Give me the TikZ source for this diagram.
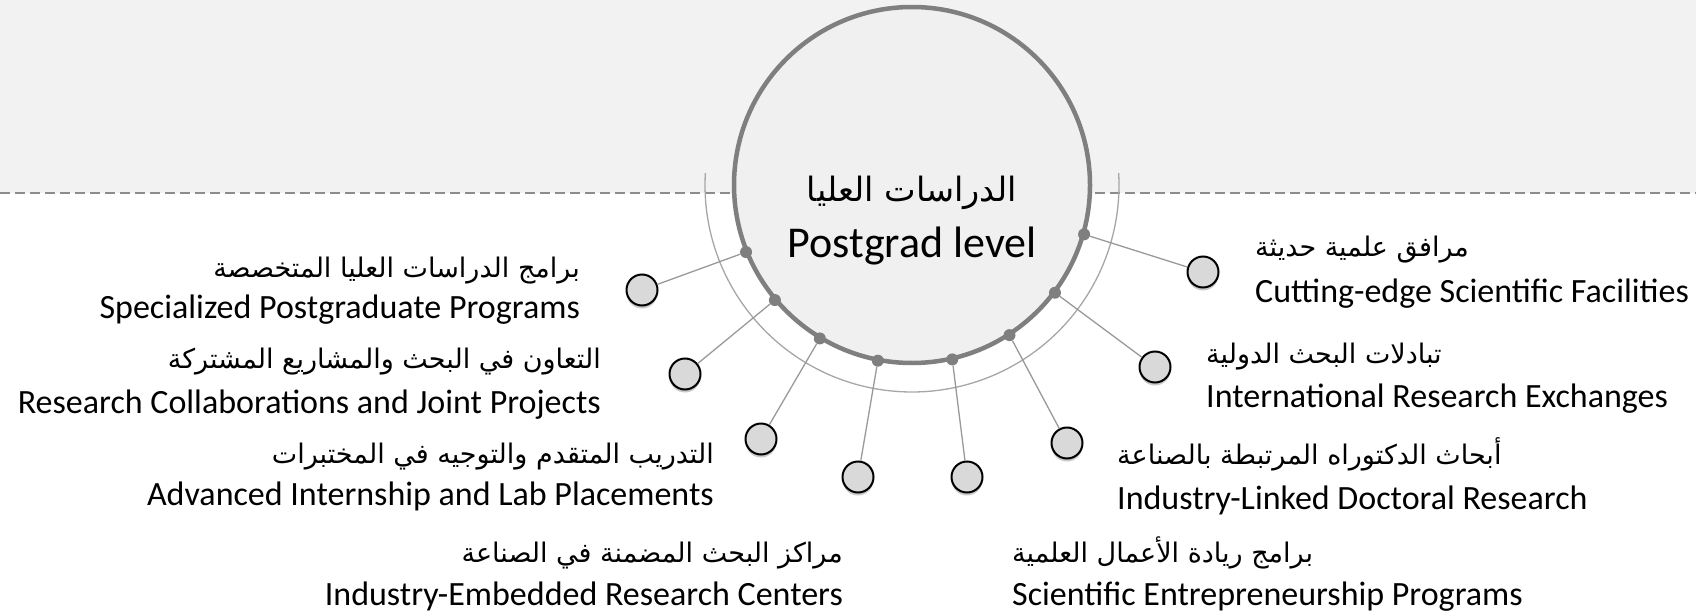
\documentclass[tikz,border=0pt]{standalone}
\usepackage{fontspec}
\setmainfont{Carlito}
\newfontfamily\arabicfont[Script=Arabic]{DejaVu Sans}
\TeXXeTstate=1
\usetikzlibrary{shadows,calc}
\definecolor{bgtop}{HTML}{F2F2F2}
\definecolor{hubfill}{HTML}{F0F0F0}
\definecolor{ringgray}{HTML}{7F7F7F}
\definecolor{dashgray}{HTML}{8C8C8C}
\definecolor{arcgray}{HTML}{A6A6A6}
\definecolor{conngray}{HTML}{999999}
\definecolor{bubfill}{HTML}{D9D9D9}
\tikzset{
  hub/.style={circle, draw=ringgray, line width=4.5pt, fill=hubfill, minimum size=356pt, inner sep=0pt},
  pin/.style={circle, fill=ringgray, minimum size=12pt, inner sep=0pt},
  bubble/.style={circle, draw=black, line width=2pt, fill=bubfill, minimum size=31pt, inner sep=0pt,
    drop shadow={shadow xshift=0pt, shadow yshift=-3pt, opacity=0.35, fill=black!60}},
  conn/.style={draw=conngray, line width=1.3pt},
  entxt/.style={inner sep=0pt, font=\fontsize{34}{40}\selectfont},
  artxt/.style={inner sep=0pt, font=\fontsize{27}{32}\selectfont\arabicfont},
  hubtxt/.style={inner sep=0pt, font=\fontsize{44}{50}\selectfont},
  hubar/.style={inner sep=0pt, font=\fontsize{33.5}{40}\selectfont\arabicfont},
}
\begin{document}
\begin{tikzpicture}[x=1pt,y=-1pt]
\useasboundingbox (0,0) rectangle (1696,615);
\fill[bgtop] (0,0) rectangle (1696,193);
\draw[dashgray, line width=2pt, dash pattern=on 10pt off 5pt] (0,193) -- (1696,193);
\coordinate (c) at (912,185);
\draw[arcgray, line width=1.3pt] (c) ++(183.3:207) arc[start angle=183.3, end angle=-3.3, radius=207];
\node[hub] (hub) at (c) {};
\node[hubar, anchor=base] (hubA) at (912,201) {\beginR الدراسات العليا\endR};
\node[hubtxt, anchor=base] (hubE) at (912,257) {Postgrad level};
% pins on the ring
\node[pin] (p1) at ($(c)+(158:179)$) {};
\node[pin] (p2) at ($(c)+(140:179)$) {};
\node[pin] (p3) at ($(c)+(121:179)$) {};
\node[pin] (p4) at ($(c)+(101:179)$) {};
\node[pin] (p5) at ($(c)+(77:179)$) {};
\node[pin] (p6) at ($(c)+(57:179)$) {};
\node[pin] (p7) at ($(c)+(37:179)$) {};
\node[pin] (p8) at ($(c)+(16:179)$) {};
% bubbles
\node[bubble] (bA) at (642,290) {};
\node[bubble] (bB) at (685,374) {};
\node[bubble] (bC) at (761,439) {};
\node[bubble] (bD) at (858,477) {};
\node[bubble] (bE) at (967,477) {};
\node[bubble] (bF) at (1067,443) {};
\node[bubble] (bG) at (1155,367) {};
\node[bubble] (bH) at (1203,272) {};
% connectors
\draw[conn] (p1) -- (bA);
\draw[conn] (p2) -- (bB);
\draw[conn] (p3) -- (bC);
\draw[conn] (p4) -- (bD);
\draw[conn] (p5) -- (bE);
\draw[conn] (p6) -- (bF);
\draw[conn] (p7) -- (bG);
\draw[conn] (p8) -- (bH);
% left labels
\node[artxt, anchor=base east] (aA) at (580,277) {\beginR برامج الدراسات العليا المتخصصة\endR};
\node[entxt, anchor=base east] (eA) at (580,318) {Specialized Postgraduate Programs};
\node[artxt, anchor=base east] (aB) at (601,368) {\beginR التعاون في البحث والمشاريع المشتركة\endR};
\node[entxt, anchor=base east] (eB) at (601,413) {Research Collaborations and Joint Projects};
\node[artxt, anchor=base east] (aC) at (714,463) {\beginR التدريب المتقدم والتوجيه في المختبرات\endR};
\node[entxt, anchor=base east] (eC) at (714,505) {Advanced Internship and Lab Placements};
\node[artxt, anchor=base east] (aD) at (843,562) {\beginR مراكز البحث المضمنة في الصناعة\endR};
\node[entxt, anchor=base east] (eD) at (843,605) {Industry-Embedded Research Centers};
% right labels
\node[artxt, anchor=base west] (aE) at (1012,562) {\beginR برامج ريادة الأعمال العلمية\endR};
\node[entxt, anchor=base west] (eE) at (1012,605) {Scientific Entrepreneurship Programs};
\node[artxt, anchor=base west] (aF) at (1117,464) {\beginR أبحاث الدكتوراه المرتبطة بالصناعة\endR};
\node[entxt, anchor=base west] (eF) at (1117,509) {Industry-Linked Doctoral Research};
\node[artxt, anchor=base west] (aG) at (1206,363) {\beginR تبادلات البحث الدولية\endR};
\node[entxt, anchor=base west] (eG) at (1206,407) {International Research Exchanges};
\node[artxt, anchor=base west] (aH) at (1255,256) {\beginR مرافق علمية حديثة\endR};
\node[entxt, anchor=base west] (eH) at (1255,302) {Cutting-edge Scientific Facilities};
\end{tikzpicture}
\end{document}
